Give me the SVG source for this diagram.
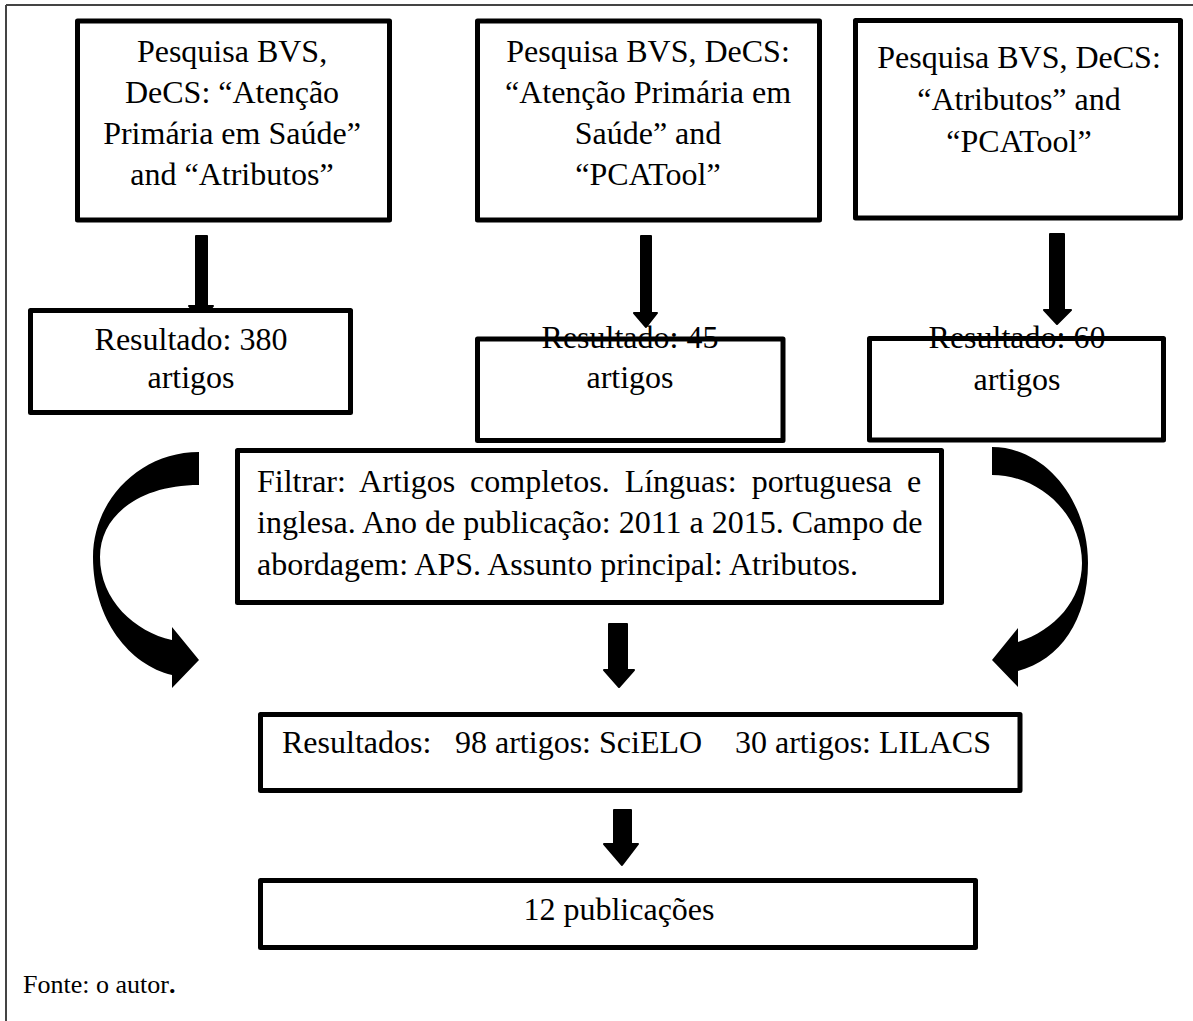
<svg xmlns="http://www.w3.org/2000/svg" width="1193" height="1021" viewBox="0 0 1193 1021">
<style>
.bx{fill:#fff;stroke:#000;stroke-width:5;stroke-linejoin:round}
.t{font-family:"Liberation Serif","Times New Roman",serif;font-size:32px;fill:#000}
.c{text-anchor:middle}
.ar{fill:#000;stroke:#000;stroke-width:2;stroke-linejoin:round}
</style>
<rect width="1193" height="1021" fill="#fff"/>
<g id="frame" stroke="#444" stroke-width="2" fill="none">
<line x1="6" y1="5" x2="1193" y2="5"/>
<line x1="6" y1="5" x2="6" y2="1021"/>
</g>
<g id="connectors">
<path class="ar" d="M196,236 H207 V306 H213 L201,321 L189,306 H196 Z"/>
<path class="ar" d="M641,236 H651 V313 H657 L646,327 L634,313 H641 Z"/>
<path class="ar" d="M1050,234 H1064 V310 H1071 L1057,324 L1044,310 H1050 Z"/>
<path class="ar" d="M609,624 H627 V670 H634 L619,687 L604,670 H609 Z"/>
<path class="ar" d="M614,810 H631 V844 H638 L622,865 L604,844 H614 Z"/>
<path id="curve-left" fill="#000" d="M199,452 C140,452 93,500 93,557 C93,620 130,665 172,675 L172,688 L199,660 L172,627 L172,640 C135,632 100,600 100,557 C100,515 140,485 199,485 Z"/>
<path id="curve-right" fill="#000" d="M992,447 C1045,447 1088,500 1088,563 C1088,620 1060,660 1018,671 L1018,687 L992,660 L1018,628 L1018,642 C1055,630 1082,600 1082,563 C1082,515 1040,475 992,475 Z"/>
</g>
<g id="n1">
<rect class="bx" x="77.5" y="21" width="312" height="199"/>
<text class="t c" x="232" y="62">Pesquisa BVS,</text>
<text class="t c" x="232" y="103">DeCS: “Atenção</text>
<text class="t c" x="232" y="144">Primária em Saúde”</text>
<text class="t c" x="232" y="185">and “Atributos”</text>
</g>
<g id="n2">
<rect class="bx" x="477.5" y="21" width="342" height="199"/>
<text class="t c" x="648" y="62">Pesquisa BVS, DeCS:</text>
<text class="t c" x="648" y="103">“Atenção Primária em</text>
<text class="t c" x="648" y="144">Saúde” and</text>
<text class="t c" x="648" y="185">“PCATool”</text>
</g>
<g id="n3">
<rect class="bx" x="855.5" y="20.5" width="325" height="197.5"/>
<text class="t c" x="1019" y="68">Pesquisa BVS, DeCS:</text>
<text class="t c" x="1019" y="110">“Atributos” and</text>
<text class="t c" x="1019" y="152">“PCATool”</text>
</g>
<g id="r1">
<rect class="bx" x="30.5" y="310.5" width="320" height="102"/>
<text class="t c" x="191" y="350">Resultado: 380</text>
<text class="t c" x="191" y="388">artigos</text>
</g>
<g id="r2">
<rect class="bx" x="477.5" y="339" width="305.5" height="101.5"/>
<text class="t c" x="630" y="348">Resultado: 45</text>
<text class="t c" x="630" y="388">artigos</text>
</g>
<g id="r3">
<rect class="bx" x="869.5" y="338.5" width="294" height="101.5"/>
<text class="t c" x="1017" y="348">Resultado: 60</text>
<text class="t c" x="1017" y="390">artigos</text>
</g>
<g id="filter">
<rect class="bx" x="237.5" y="450.5" width="704" height="152"/>
<text class="t" x="257" y="492" word-spacing="7">Filtrar: Artigos completos. Línguas: portuguesa e</text>
<text class="t" x="257" y="533">inglesa. Ano de publicação: 2011 a 2015. Campo de</text>
<text class="t" x="257" y="575">abordagem: APS. Assunto principal: Atributos.</text>
</g>
<g id="results">
<rect class="bx" x="260.5" y="714.5" width="759.5" height="76"/>
<text class="t" x="282" y="753">Resultados:</text>
<text class="t" x="455" y="753">98 artigos: SciELO</text>
<text class="t" x="735" y="753">30 artigos: LILACS</text>
</g>
<g id="final">
<rect class="bx" x="260.5" y="880.5" width="715" height="67"/>
<text class="t c" x="619" y="920">12 publicações</text>
</g>
<text x="23" y="993" font-family="Liberation Serif, Times New Roman, serif" font-size="26" fill="#000">Fonte: o autor<tspan font-weight="bold">.</tspan></text>
</svg>
